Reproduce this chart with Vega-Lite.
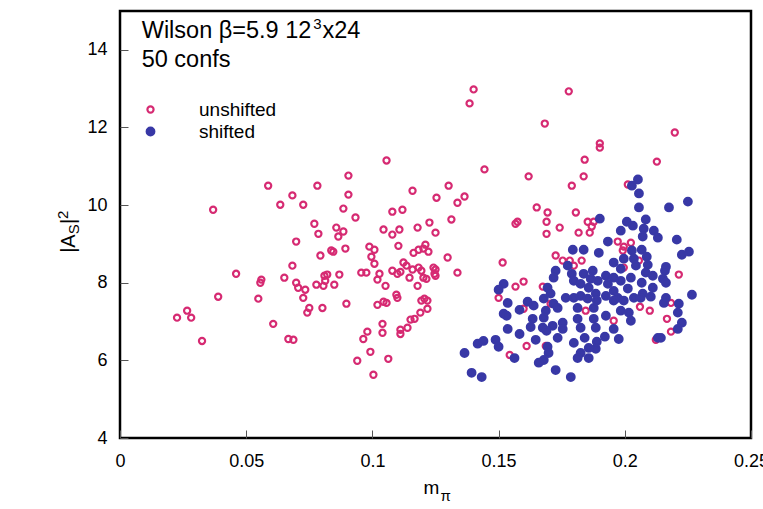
{
  "$schema": "https://vega.github.io/schema/vega-lite/v6.json",
  "width": 631,
  "height": 427,
  "autosize": {"type": "none"},
  "padding": {"left": 120, "top": 11, "right": 12, "bottom": 71},
  "background": "white",
  "config": {
    "font": "Liberation Sans",
    "view": {"stroke": "black", "strokeWidth": 2.5},
    "axis": {"domain": false, "grid": false, "tickSize": -8, "tickColor": "#555555", "tickWidth": 1, "labelFont": "Liberation Sans", "labelFontSize": 18, "labelColor": "black", "labelOverlap": false, "labelFlush": false, "labelBound": false},
    "axisX": {"labelPadding": 22},
    "axisY": {"labelPadding": 21},
    "legend": {"orient": "none", "legendX": 21, "legendY": 89, "labelFont": "Liberation Sans", "labelFontSize": 19, "labelColor": "black", "labelOffset": 39, "symbolStrokeWidth": 2.2, "rowPadding": 2, "padding": 0}
  },
  "datasets": {
    "pts": [
      {"s":"unshifted","m":0.0226,"a":7.10},{"s":"unshifted","m":0.0266,"a":7.28},{"s":"unshifted","m":0.0282,"a":7.10},{"s":"unshifted","m":0.0325,"a":6.50},{"s":"unshifted","m":0.0369,"a":9.88},{"s":"unshifted","m":0.0389,"a":7.64},{"s":"unshifted","m":0.0460,"a":8.23},{"s":"unshifted","m":0.0548,"a":7.59},{"s":"unshifted","m":0.0556,"a":8.00},{"s":"unshifted","m":0.0560,"a":8.08},{"s":"unshifted","m":0.0587,"a":10.50},{"s":"unshifted","m":0.0607,"a":6.94},{"s":"unshifted","m":0.0635,"a":10.01},{"s":"unshifted","m":0.0651,"a":8.13},{"s":"unshifted","m":0.0667,"a":6.55},{"s":"unshifted","m":0.0687,"a":6.53},{"s":"unshifted","m":0.0683,"a":10.25},{"s":"unshifted","m":0.0683,"a":8.44},{"s":"unshifted","m":0.0698,"a":9.06},{"s":"unshifted","m":0.0698,"a":8.00},{"s":"unshifted","m":0.0706,"a":7.87},{"s":"unshifted","m":0.0726,"a":10.01},{"s":"unshifted","m":0.0726,"a":7.61},{"s":"unshifted","m":0.0734,"a":7.82},{"s":"unshifted","m":0.0742,"a":7.23},{"s":"unshifted","m":0.0750,"a":7.35},
      {"s":"unshifted","m":0.1401,"a":12.98},{"s":"unshifted","m":0.1385,"a":12.62},{"s":"unshifted","m":0.1056,"a":11.15},{"s":"unshifted","m":0.1444,"a":10.92},{"s":"unshifted","m":0.0905,"a":10.76},{"s":"unshifted","m":0.0782,"a":10.50},{"s":"unshifted","m":0.0905,"a":10.27},{"s":"unshifted","m":0.1159,"a":10.37},{"s":"unshifted","m":0.1302,"a":10.50},{"s":"unshifted","m":0.1254,"a":10.19},{"s":"unshifted","m":0.1365,"a":10.22},{"s":"unshifted","m":0.1337,"a":10.06},{"s":"unshifted","m":0.0885,"a":9.91},{"s":"unshifted","m":0.0933,"a":9.68},{"s":"unshifted","m":0.1079,"a":9.83},{"s":"unshifted","m":0.1119,"a":9.88},{"s":"unshifted","m":0.1313,"a":9.63},{"s":"unshifted","m":0.0770,"a":9.52},{"s":"unshifted","m":0.0786,"a":9.26},{"s":"unshifted","m":0.0857,"a":9.42},{"s":"unshifted","m":0.0885,"a":9.32},{"s":"unshifted","m":0.0865,"a":9.19},{"s":"unshifted","m":0.1044,"a":9.37},{"s":"unshifted","m":0.1079,"a":9.24},{"s":"unshifted","m":0.1107,"a":9.37},{"s":"unshifted","m":0.1179,"a":9.42},{"s":"unshifted","m":0.1226,"a":9.55},{"s":"unshifted","m":0.1250,"a":9.29},
      {"s":"unshifted","m":0.0794,"a":8.70},{"s":"unshifted","m":0.0837,"a":8.83},{"s":"unshifted","m":0.0845,"a":8.80},{"s":"unshifted","m":0.0893,"a":8.88},{"s":"unshifted","m":0.0988,"a":8.93},{"s":"unshifted","m":0.1008,"a":8.85},{"s":"unshifted","m":0.0996,"a":8.67},{"s":"unshifted","m":0.1008,"a":8.49},{"s":"unshifted","m":0.1103,"a":8.95},{"s":"unshifted","m":0.1163,"a":8.77},{"s":"unshifted","m":0.1183,"a":8.85},{"s":"unshifted","m":0.1202,"a":8.88},{"s":"unshifted","m":0.1210,"a":8.98},{"s":"unshifted","m":0.1222,"a":8.80},{"s":"unshifted","m":0.1298,"a":8.65},{"s":"unshifted","m":0.0956,"a":8.26},{"s":"unshifted","m":0.0976,"a":8.26},{"s":"unshifted","m":0.1028,"a":8.23},{"s":"unshifted","m":0.1020,"a":8.08},{"s":"unshifted","m":0.1052,"a":7.92},{"s":"unshifted","m":0.1079,"a":8.31},{"s":"unshifted","m":0.1099,"a":8.23},{"s":"unshifted","m":0.1111,"a":8.28},{"s":"unshifted","m":0.1123,"a":8.52},{"s":"unshifted","m":0.1135,"a":8.44},{"s":"unshifted","m":0.1147,"a":8.13},{"s":"unshifted","m":0.1159,"a":8.34},{"s":"unshifted","m":0.1183,"a":8.39},{"s":"unshifted","m":0.1194,"a":8.31},{"s":"unshifted","m":0.1202,"a":8.13},{"s":"unshifted","m":0.1214,"a":8.10},{"s":"unshifted","m":0.1179,"a":7.92},{"s":"unshifted","m":0.1242,"a":8.39},{"s":"unshifted","m":0.1250,"a":8.34},{"s":"unshifted","m":0.1246,"a":8.23},{"s":"unshifted","m":0.1250,"a":8.18},{"s":"unshifted","m":0.1337,"a":8.26},{"s":"unshifted","m":0.0869,"a":8.21},{"s":"unshifted","m":0.0810,"a":8.18},{"s":"unshifted","m":0.0821,"a":8.21},{"s":"unshifted","m":0.0813,"a":8.05},{"s":"unshifted","m":0.0806,"a":7.92},{"s":"unshifted","m":0.0778,"a":7.95},{"s":"unshifted","m":0.0849,"a":7.95},
      {"s":"unshifted","m":0.0802,"a":7.35},{"s":"unshifted","m":0.0897,"a":7.46},{"s":"unshifted","m":0.1020,"a":7.43},{"s":"unshifted","m":0.1044,"a":7.51},{"s":"unshifted","m":0.1056,"a":7.48},{"s":"unshifted","m":0.1095,"a":7.69},{"s":"unshifted","m":0.1099,"a":7.61},{"s":"unshifted","m":0.1194,"a":7.54},{"s":"unshifted","m":0.1206,"a":7.59},{"s":"unshifted","m":0.1218,"a":7.54},{"s":"unshifted","m":0.1218,"a":7.33},{"s":"unshifted","m":0.1190,"a":7.23},{"s":"unshifted","m":0.1167,"a":7.07},{"s":"unshifted","m":0.1151,"a":7.05},{"s":"unshifted","m":0.1139,"a":6.84},{"s":"unshifted","m":0.1111,"a":6.79},{"s":"unshifted","m":0.1111,"a":6.68},{"s":"unshifted","m":0.1040,"a":6.94},{"s":"unshifted","m":0.1040,"a":6.71},{"s":"unshifted","m":0.0980,"a":6.74},{"s":"unshifted","m":0.0964,"a":6.55},{"s":"unshifted","m":0.0992,"a":6.22},{"s":"unshifted","m":0.0940,"a":5.99},{"s":"unshifted","m":0.1063,"a":6.04},{"s":"unshifted","m":0.1004,"a":5.63},
      {"s":"unshifted","m":0.1778,"a":12.93},{"s":"unshifted","m":0.1683,"a":12.10},{"s":"unshifted","m":0.1901,"a":11.59},{"s":"unshifted","m":0.1901,"a":11.48},{"s":"unshifted","m":0.1841,"a":11.17},{"s":"unshifted","m":0.1837,"a":10.74},{"s":"unshifted","m":0.1790,"a":10.50},{"s":"unshifted","m":0.1619,"a":10.74},{"s":"unshifted","m":0.1651,"a":9.94},{"s":"unshifted","m":0.1694,"a":9.81},{"s":"unshifted","m":0.1690,"a":9.57},{"s":"unshifted","m":0.1690,"a":9.26},{"s":"unshifted","m":0.1742,"a":9.42},{"s":"unshifted","m":0.1806,"a":9.81},{"s":"unshifted","m":0.1817,"a":9.29},{"s":"unshifted","m":0.1861,"a":9.29},{"s":"unshifted","m":0.1853,"a":9.57},{"s":"unshifted","m":0.1877,"a":9.57},{"s":"unshifted","m":0.1869,"a":9.45},{"s":"unshifted","m":0.1575,"a":9.57},{"s":"unshifted","m":0.1567,"a":9.52},{"s":"unshifted","m":0.1516,"a":8.52},{"s":"unshifted","m":0.1726,"a":8.70},{"s":"unshifted","m":0.1754,"a":8.57},{"s":"unshifted","m":0.1782,"a":8.57},{"s":"unshifted","m":0.1798,"a":8.44},{"s":"unshifted","m":0.1829,"a":8.57},{"s":"unshifted","m":0.1599,"a":8.03},{"s":"unshifted","m":0.1567,"a":7.90},{"s":"unshifted","m":0.1500,"a":7.61},{"s":"unshifted","m":0.1675,"a":7.90},{"s":"unshifted","m":0.1706,"a":7.46},{"s":"unshifted","m":0.1599,"a":7.33},{"s":"unshifted","m":0.1845,"a":7.28},{"s":"unshifted","m":0.1611,"a":6.37},{"s":"unshifted","m":0.1544,"a":6.14},{"s":"unshifted","m":0.1687,"a":6.37},
      {"s":"unshifted","m":0.2198,"a":11.87},{"s":"unshifted","m":0.2127,"a":11.12},{"s":"unshifted","m":0.2012,"a":10.53},{"s":"unshifted","m":0.1972,"a":9.06},{"s":"unshifted","m":0.1996,"a":8.93},{"s":"unshifted","m":0.2024,"a":9.03},{"s":"unshifted","m":0.1992,"a":8.83},{"s":"unshifted","m":0.2056,"a":8.57},{"s":"unshifted","m":0.1996,"a":8.39},{"s":"unshifted","m":0.2214,"a":8.21},{"s":"unshifted","m":0.2060,"a":7.38},{"s":"unshifted","m":0.2099,"a":7.28},{"s":"unshifted","m":0.2183,"a":7.48},{"s":"unshifted","m":0.2167,"a":7.07},{"s":"unshifted","m":0.1956,"a":7.02},{"s":"unshifted","m":0.2183,"a":6.74},{"s":"unshifted","m":0.2123,"a":6.53},
      {"s":"shifted","m":0.1365,"a":6.19},{"s":"shifted","m":0.1393,"a":5.68},{"s":"shifted","m":0.1433,"a":5.57},{"s":"shifted","m":0.1417,"a":6.43},{"s":"shifted","m":0.1440,"a":6.50},{"s":"shifted","m":0.1488,"a":6.53},{"s":"shifted","m":0.1500,"a":6.35},{"s":"shifted","m":0.1563,"a":6.06},{"s":"shifted","m":0.1520,"a":7.97},{"s":"shifted","m":0.1500,"a":7.82},{"s":"shifted","m":0.1536,"a":7.48},{"s":"shifted","m":0.1520,"a":7.20},{"s":"shifted","m":0.1532,"a":7.15},{"s":"shifted","m":0.1583,"a":7.30},{"s":"shifted","m":0.1615,"a":7.51},{"s":"shifted","m":0.1639,"a":7.41},{"s":"shifted","m":0.1635,"a":7.07},{"s":"shifted","m":0.1627,"a":6.86},{"s":"shifted","m":0.1536,"a":6.81},{"s":"shifted","m":0.1583,"a":6.68},{"s":"shifted","m":0.1647,"a":6.53},
      {"s":"shifted","m":0.1694,"a":6.35},{"s":"shifted","m":0.1698,"a":6.19},{"s":"shifted","m":0.1679,"a":6.01},{"s":"shifted","m":0.1659,"a":5.94},{"s":"shifted","m":0.1726,"a":5.75},{"s":"shifted","m":0.1786,"a":5.57},{"s":"shifted","m":0.1679,"a":7.59},{"s":"shifted","m":0.1706,"a":7.72},{"s":"shifted","m":0.1694,"a":7.87},{"s":"shifted","m":0.1718,"a":7.46},{"s":"shifted","m":0.1734,"a":7.35},{"s":"shifted","m":0.1687,"a":7.28},{"s":"shifted","m":0.1679,"a":7.10},{"s":"shifted","m":0.1675,"a":6.84},{"s":"shifted","m":0.1714,"a":6.89},{"s":"shifted","m":0.1754,"a":6.97},{"s":"shifted","m":0.1754,"a":6.81},{"s":"shifted","m":0.1734,"a":6.58},{"s":"shifted","m":0.1690,"a":6.76},
      {"s":"shifted","m":0.1766,"a":7.61},{"s":"shifted","m":0.1798,"a":7.61},{"s":"shifted","m":0.1825,"a":7.66},{"s":"shifted","m":0.1853,"a":7.59},{"s":"shifted","m":0.1813,"a":7.35},{"s":"shifted","m":0.1877,"a":7.35},{"s":"shifted","m":0.1813,"a":7.07},{"s":"shifted","m":0.1825,"a":6.84},{"s":"shifted","m":0.1877,"a":7.07},{"s":"shifted","m":0.1885,"a":6.84},{"s":"shifted","m":0.1798,"a":6.45},{"s":"shifted","m":0.1841,"a":6.58},{"s":"shifted","m":0.1857,"a":6.32},{"s":"shifted","m":0.1825,"a":6.19},{"s":"shifted","m":0.1813,"a":6.06},{"s":"shifted","m":0.1857,"a":6.06},{"s":"shifted","m":0.1885,"a":6.30},{"s":"shifted","m":0.1889,"a":6.48},
      {"s":"shifted","m":0.1901,"a":9.65},{"s":"shifted","m":0.1794,"a":8.85},{"s":"shifted","m":0.1837,"a":8.85},{"s":"shifted","m":0.1897,"a":8.77},{"s":"shifted","m":0.1774,"a":8.44},{"s":"shifted","m":0.1726,"a":8.31},{"s":"shifted","m":0.1718,"a":8.13},{"s":"shifted","m":0.1790,"a":8.23},{"s":"shifted","m":0.1798,"a":8.05},{"s":"shifted","m":0.1837,"a":8.23},{"s":"shifted","m":0.1873,"a":8.31},{"s":"shifted","m":0.1893,"a":8.05},{"s":"shifted","m":0.1825,"a":7.97},{"s":"shifted","m":0.1857,"a":7.87},
      {"s":"shifted","m":0.2056,"a":9.94},{"s":"shifted","m":0.2008,"a":9.57},{"s":"shifted","m":0.2083,"a":9.63},{"s":"shifted","m":0.1984,"a":9.34},{"s":"shifted","m":0.2075,"a":9.39},{"s":"shifted","m":0.2071,"a":9.19},{"s":"shifted","m":0.2115,"a":9.34},{"s":"shifted","m":0.2131,"a":9.16},{"s":"shifted","m":0.1933,"a":9.06},{"s":"shifted","m":0.2028,"a":8.83},{"s":"shifted","m":0.2067,"a":8.85},{"s":"shifted","m":0.1996,"a":8.62},{"s":"shifted","m":0.2036,"a":8.62},{"s":"shifted","m":0.2087,"a":8.67},{"s":"shifted","m":0.1984,"a":8.36},{"s":"shifted","m":0.2044,"a":8.44},{"s":"shifted","m":0.2091,"a":8.46},{"s":"shifted","m":0.2083,"a":8.26},{"s":"shifted","m":0.2111,"a":8.18},
      {"s":"shifted","m":0.1865,"a":8.10},{"s":"shifted","m":0.1925,"a":8.18},{"s":"shifted","m":0.1956,"a":8.13},{"s":"shifted","m":0.1933,"a":7.97},{"s":"shifted","m":0.1984,"a":8.05},{"s":"shifted","m":0.2024,"a":8.13},{"s":"shifted","m":0.2067,"a":8.00},{"s":"shifted","m":0.2111,"a":7.87},{"s":"shifted","m":0.1885,"a":7.72},{"s":"shifted","m":0.1925,"a":7.66},{"s":"shifted","m":0.1956,"a":7.79},{"s":"shifted","m":0.1972,"a":7.61},{"s":"shifted","m":0.2012,"a":7.85},{"s":"shifted","m":0.2036,"a":7.61},{"s":"shifted","m":0.2071,"a":7.72},{"s":"shifted","m":0.2103,"a":7.64},{"s":"shifted","m":0.1889,"a":7.54},{"s":"shifted","m":0.1956,"a":7.54},{"s":"shifted","m":0.1996,"a":7.54},{"s":"shifted","m":0.2063,"a":7.61},
      {"s":"shifted","m":0.1984,"a":7.28},{"s":"shifted","m":0.2016,"a":7.23},{"s":"shifted","m":0.2024,"a":7.02},{"s":"shifted","m":0.1925,"a":7.15},{"s":"shifted","m":0.1956,"a":6.81},{"s":"shifted","m":0.1976,"a":6.55},{"s":"shifted","m":0.1921,"a":6.61},{"s":"shifted","m":0.2131,"a":6.58},
      {"s":"shifted","m":0.2052,"a":10.66},{"s":"shifted","m":0.2028,"a":10.50},{"s":"shifted","m":0.2056,"a":10.30},{"s":"shifted","m":0.2175,"a":9.94},{"s":"shifted","m":0.2250,"a":10.09},{"s":"shifted","m":0.2206,"a":9.11},{"s":"shifted","m":0.2226,"a":8.72},{"s":"shifted","m":0.2254,"a":8.80},{"s":"shifted","m":0.2163,"a":8.41},{"s":"shifted","m":0.2159,"a":8.31},{"s":"shifted","m":0.2151,"a":8.10},{"s":"shifted","m":0.2163,"a":8.00},{"s":"shifted","m":0.2163,"a":7.61},{"s":"shifted","m":0.2155,"a":7.48},{"s":"shifted","m":0.2214,"a":7.46},{"s":"shifted","m":0.2266,"a":7.69},{"s":"shifted","m":0.2210,"a":7.23},{"s":"shifted","m":0.2226,"a":6.97},{"s":"shifted","m":0.2210,"a":6.81},{"s":"shifted","m":0.2143,"a":6.58},{"s":"shifted","m":0.2032,"a":9.47},{"s":"shifted","m":0.1956,"a":8.52}
    ]
  },
  "layer": [
    {
      "data": {"name": "pts"},
      "mark": {"type": "point", "shape": "circle", "strokeWidth": 2.2, "opacity": 1, "fillOpacity": 1, "strokeOpacity": 1},
      "encoding": {
        "x": {"field": "m", "type": "quantitative", "scale": {"domain": [0, 0.25], "nice": false, "zero": false}, "axis": {"title": null, "values": [0, 0.05, 0.1, 0.15, 0.2, 0.25], "format": "~g"}},
        "y": {"field": "a", "type": "quantitative", "scale": {"domain": [4, 15], "nice": false, "zero": false}, "axis": {"title": null, "values": [4, 6, 8, 10, 12, 14], "format": "d"}},
        "stroke": {"field": "s", "type": "nominal", "scale": {"domain": ["unshifted", "shifted"], "range": ["#d62a72", "#3838a6"]}, "legend": {"title": null}},
        "fill": {"field": "s", "type": "nominal", "scale": {"domain": ["unshifted", "shifted"], "range": ["transparent", "#3838a6"]}, "legend": {"title": null}},
        "size": {"field": "s", "type": "nominal", "scale": {"domain": ["unshifted", "shifted"], "range": [38, 58]}, "legend": {"title": null}}
      }
    },
    {
      "data": {"values": [{"k": 1}]},
      "mark": {"type": "text", "align": "left", "baseline": "alphabetic", "fontSize": 23.5, "font": "Liberation Sans", "color": "black", "text": "Wilson β=5.9 12"},
      "encoding": {"x": {"datum": 0.0086, "type": "quantitative"}, "y": {"datum": 14.30, "type": "quantitative"}}
    },
    {
      "data": {"values": [{"k": 1}]},
      "mark": {"type": "text", "align": "left", "baseline": "alphabetic", "fontSize": 15, "font": "Liberation Sans", "color": "black", "text": "3"},
      "encoding": {"x": {"datum": 0.0766, "type": "quantitative"}, "y": {"datum": 14.54, "type": "quantitative"}}
    },
    {
      "data": {"values": [{"k": 1}]},
      "mark": {"type": "text", "align": "left", "baseline": "alphabetic", "fontSize": 23.5, "font": "Liberation Sans", "color": "black", "text": "x24"},
      "encoding": {"x": {"datum": 0.0802, "type": "quantitative"}, "y": {"datum": 14.30, "type": "quantitative"}}
    },
    {
      "data": {"values": [{"k": 1}]},
      "mark": {"type": "text", "align": "left", "baseline": "alphabetic", "fontSize": 23.5, "font": "Liberation Sans", "color": "black", "text": "50 confs"},
      "encoding": {"x": {"datum": 0.0086, "type": "quantitative"}, "y": {"datum": 13.57, "type": "quantitative"}}
    },
    {
      "data": {"values": [{"k": 1}]},
      "mark": {"type": "text", "align": "center", "baseline": "alphabetic", "fontSize": 19, "font": "Liberation Sans", "color": "black", "text": "m"},
      "encoding": {"x": {"datum": 0.1234, "type": "quantitative"}, "y": {"datum": 2.56, "type": "quantitative"}}
    },
    {
      "data": {"values": [{"k": 1}]},
      "mark": {"type": "text", "align": "left", "baseline": "alphabetic", "fontSize": 15, "font": "Liberation Sans", "color": "black", "text": "π"},
      "encoding": {"x": {"datum": 0.1270, "type": "quantitative"}, "y": {"datum": 2.38, "type": "quantitative"}}
    },
    {
      "data": {"values": [{"k": 1}]},
      "mark": {"type": "text", "align": "left", "baseline": "alphabetic", "angle": 270, "fontSize": 20, "font": "Liberation Sans", "color": "black", "text": "|A"},
      "encoding": {"x": {"datum": -0.0179, "type": "quantitative"}, "y": {"datum": 8.77, "type": "quantitative"}}
    },
    {
      "data": {"values": [{"k": 1}]},
      "mark": {"type": "text", "align": "left", "baseline": "alphabetic", "angle": 270, "fontSize": 15, "font": "Liberation Sans", "color": "black", "text": "S"},
      "encoding": {"x": {"datum": -0.0163, "type": "quantitative"}, "y": {"datum": 9.25, "type": "quantitative"}}
    },
    {
      "data": {"values": [{"k": 1}]},
      "mark": {"type": "text", "align": "left", "baseline": "alphabetic", "angle": 270, "fontSize": 20, "font": "Liberation Sans", "color": "black", "text": "|"},
      "encoding": {"x": {"datum": -0.0179, "type": "quantitative"}, "y": {"datum": 9.51, "type": "quantitative"}}
    },
    {
      "data": {"values": [{"k": 1}]},
      "mark": {"type": "text", "align": "left", "baseline": "alphabetic", "angle": 270, "fontSize": 15, "font": "Liberation Sans", "color": "black", "text": "2"},
      "encoding": {"x": {"datum": -0.0206, "type": "quantitative"}, "y": {"datum": 9.64, "type": "quantitative"}}
    }
  ]
}
